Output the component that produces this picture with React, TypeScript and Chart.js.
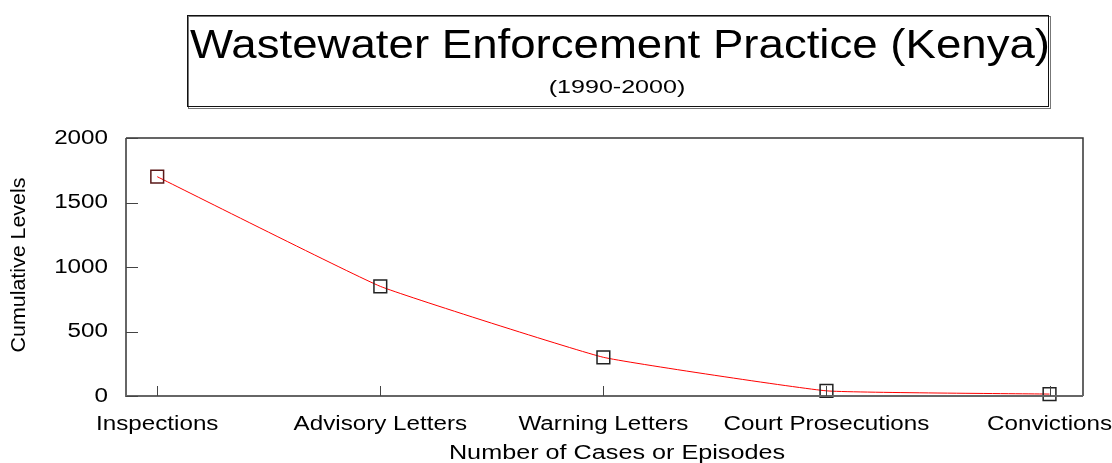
import React, { useEffect, useRef } from "react";
import { Chart, registerables } from "chart.js";

Chart.register(...registerables);

const categories = [
  "Inspections",
  "Advisory Letters",
  "Warning Letters",
  "Court Prosecutions",
  "Convictions",
];
const cumulativeLevels = [1700, 850, 300, 40, 15];
const yTickValues = [0, 500, 1000, 1500, 2000];
const titleText = "Wastewater Enforcement Practice (Kenya)";
const subtitleText = "(1990-2000)";
const xAxisTitle = "Number of Cases or Episodes";
const yAxisTitle = "Cumulative Levels";

const FONT = '"Liberation Sans", Arial, sans-serif';

function stretchText(
  ctx: CanvasRenderingContext2D,
  text: string,
  x: number,
  y: number,
  size: number,
  sx: number,
  align: CanvasTextAlign = "center",
  rotate = 0
) {
  ctx.save();
  ctx.font = `${size}px ${FONT}`;
  ctx.fillStyle = "#000";
  ctx.textAlign = align;
  ctx.textBaseline = "middle";
  ctx.translate(x, y);
  if (rotate) ctx.rotate(rotate);
  ctx.scale(sx, 1);
  ctx.fillText(text, 0, 0);
  ctx.restore();
}

const decorPlugin = {
  id: "decor",
  beforeDraw(chart: any) {
    const ctx: CanvasRenderingContext2D = chart.ctx;
    ctx.save();
    ctx.fillStyle = "#fff";
    ctx.fillRect(0, 0, chart.width, chart.height);
    ctx.strokeStyle = "#777";
    ctx.lineWidth = 1;
    ctx.strokeRect(188.5, 16.5, 862, 92);
    ctx.strokeStyle = "#111";
    ctx.strokeRect(187.5, 15.5, 861, 91);
    ctx.restore();
    stretchText(ctx, titleText, 620, 47, 40, 1.14);
    stretchText(ctx, subtitleText, 617, 88, 19, 1.32);
  },
  afterDatasetsDraw(chart: any) {
    const ctx: CanvasRenderingContext2D = chart.ctx;
    const { left, right, top, bottom } = chart.chartArea;
    const xs = chart.scales.x;
    const ys = chart.scales.y;
    ctx.save();
    ctx.strokeStyle = "#333";
    ctx.lineWidth = 1.5;
    ctx.beginPath();
    ctx.moveTo(left, top);
    ctx.lineTo(right, top);
    ctx.lineTo(right, bottom);
    ctx.stroke();
    ctx.strokeStyle = "#666";
    ctx.lineWidth = 2;
    ctx.beginPath();
    ctx.moveTo(left, top);
    ctx.lineTo(left, bottom);
    ctx.lineTo(right, bottom);
    ctx.stroke();
    ctx.strokeStyle = "#444";
    ctx.lineWidth = 1;
    ctx.beginPath();
    ys.ticks.forEach((t: any) => {
      const py = Math.round(ys.getPixelForValue(t.value)) + 0.5;
      ctx.moveTo(left, py);
      ctx.lineTo(left + 12, py);
    });
    xs.ticks.forEach((t: any) => {
      const px = Math.round(xs.getPixelForValue(t.value)) + 0.5;
      ctx.moveTo(px, bottom);
      ctx.lineTo(px, bottom - 10);
    });
    ctx.stroke();
    ctx.restore();
    ys.ticks.forEach((t: any) => {
      stretchText(ctx, String(t.value), left - 18, ys.getPixelForValue(t.value), 20, 1.21, "right");
    });
    xs.ticks.forEach((t: any) => {
      stretchText(ctx, categories[t.value], xs.getPixelForValue(t.value), bottom + 28, 20, 1.21);
    });
    stretchText(ctx, xAxisTitle, 617, bottom + 57, 20, 1.26);
    stretchText(ctx, yAxisTitle, 19, (top + bottom) / 2 - 2, 20, 1.07, "center", -Math.PI / 2);
  },
};

export default function App() {
  const canvasRef = useRef<HTMLCanvasElement | null>(null);

  useEffect(() => {
    const canvas = canvasRef.current;
    if (!canvas) return;
    const chart = new Chart(canvas, {
      type: "line",
      data: {
        datasets: [
          {
            data: categories.map((_, i) => ({ x: i, y: cumulativeLevels[i] })),
            borderColor: "#ff0000",
            borderWidth: 1,
            tension: 0.1,
            pointStyle: "rect",
            pointRadius: 9,
            pointHoverRadius: 9,
            pointBorderWidth: 1.5,
            pointBackgroundColor: "rgba(0,0,0,0)",
            pointBorderColor: ["#5a1818", "#222", "#222", "#222", "#222"],
            clip: false,
          } as any,
        ],
      },
      options: {
        animation: false,
        responsive: false,
        devicePixelRatio: 1,
        events: [],
        layout: { padding: { left: 126, right: 29, top: 138, bottom: 67 } },
        plugins: {
          legend: { display: false },
          tooltip: { enabled: false },
          title: { display: false },
        },
        scales: {
          x: {
            type: "linear",
            min: -0.14,
            max: 4.15,
            display: false,
            afterBuildTicks: (s: any) => {
              s.ticks = categories.map((_, i) => ({ value: i }));
            },
          },
          y: {
            type: "linear",
            min: 0,
            max: 2000,
            display: false,
            afterBuildTicks: (s: any) => {
              s.ticks = yTickValues.map((v) => ({ value: v }));
            },
          },
        },
      },
      plugins: [decorPlugin],
    });
    return () => chart.destroy();
  }, []);

  return (
    <div style={{ position: "absolute", left: 0, top: 0, width: 1112, height: 463, background: "#fff" }}>
      <canvas ref={canvasRef} width={1112} height={463} style={{ width: 1112, height: 463, display: "block" }} />
    </div>
  );
}
